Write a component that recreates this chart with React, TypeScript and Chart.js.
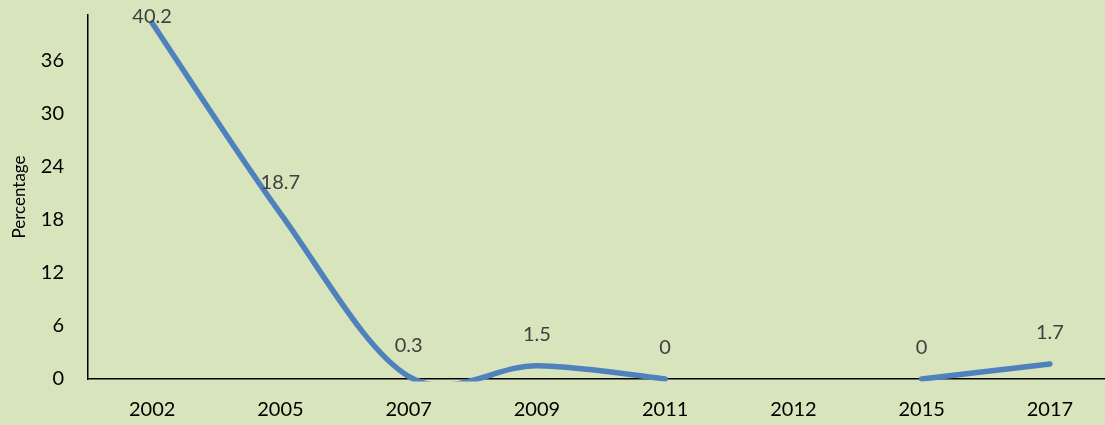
import React, { useEffect, useRef } from "react";
import { Chart, registerables } from "chart.js";
Chart.register(...registerables);

const years = ["2002", "2005", "2007", "2009", "2011", "2012", "2015", "2017"];
const percentage: (number | null)[] = [40.2, 18.7, 0.3, 1.5, 0, null, 0, 1.7];
const dataLabels = ["40.2", "18.7", "0.3", "1.5", "0", "", "0", "1.7"];
const yTicks = [0, 6, 12, 18, 24, 30, 36];
const yMax = 41.1;
const yTitle = "Percentage";

const BG = "#D8E4BC";
const FONT = "Lato, 'Open Sans', sans-serif";

// Excel-style smoothing: uniform Catmull-Rom control points (1/6 of neighbour chord)
const excelSmooth = {
  id: "excelSmooth",
  beforeDatasetsDraw(chart: any) {
    const meta = chart.getDatasetMeta(0);
    meta.dataset.updateControlPoints(chart.chartArea, meta.iScale.axis);
    const pts = meta.data;
    const ok = (i: number) => i >= 0 && i < pts.length && percentage[i] !== null;
    pts.forEach((p: any, i: number) => {
      if (!ok(i)) return;
      const prev = ok(i - 1) ? pts[i - 1] : p;
      const next = ok(i + 1) ? pts[i + 1] : p;
      const dx = (next.x - prev.x) / 6;
      const dy = (next.y - prev.y) / 6;
      p.cp1x = p.x - dx;
      p.cp1y = p.y - dy;
      p.cp2x = p.x + dx;
      p.cp2y = p.y + dy;
    });
  },
};

const labelPlugin = {
  id: "pointLabels",
  afterDatasetsDraw(chart: any) {
    const meta = chart.getDatasetMeta(0);
    const ctx = chart.ctx;
    ctx.save();
    ctx.font = `20px ${FONT}`;
    ctx.fillStyle = "#404040";
    ctx.textAlign = "center";
    ctx.textBaseline = "middle";
    meta.data.forEach((pt: any, i: number) => {
      const v = percentage[i];
      if (v === null || v === undefined) return;
      const y = Math.max(pt.y - 31, 17);
      ctx.fillText(dataLabels[i], pt.x, y);
    });
    ctx.restore();
  },
};

export default function App() {
  const ref = useRef<HTMLCanvasElement | null>(null);
  useEffect(() => {
    document.body.style.background = BG;
    document.body.style.overflow = "hidden";
    const canvas = ref.current!;
    const chart = new Chart(canvas, {
      type: "line",
      data: {
        labels: years,
        datasets: [
          {
            data: percentage,
            borderColor: "#4F81BD",
            backgroundColor: "#4F81BD",
            borderWidth: 5.5,
            tension: 0.5,
            capBezierPoints: false,
            pointRadius: 0,
            pointHoverRadius: 0,
            spanGaps: false,
            borderCapStyle: "round",
            borderJoinStyle: "round",
            clip: { left: 10, top: 10, right: 10, bottom: 2.5 } as any,
          } as any,
        ],
      },
      options: {
        animation: false,
        responsive: false,
        devicePixelRatio: 1,
        layout: { padding: { top: 15, left: 0, right: 0, bottom: 0 } },
        plugins: {
          legend: { display: false },
          tooltip: { enabled: false },
        },
        scales: {
          x: {
            offset: true,
            grid: { display: false, drawTicks: false },
            border: { display: true, color: "#000000", width: 1.5 },
            ticks: {
              padding: 19,
              color: "#000000",
              font: { family: FONT, size: 20 },
              maxRotation: 0,
              autoSkip: false,
            },
            afterFit(scale: any) {
              scale.height = 46;
              scale.paddingLeft = 0;
              scale.paddingRight = 0;
            },
          },
          y: {
            min: 0,
            max: yMax,
            grid: { display: false, drawTicks: false },
            border: { display: true, color: "#000000", width: 1.5 },
            ticks: {
              padding: 24,
              color: "#000000",
              font: { family: FONT, size: 20 },
            },
            afterBuildTicks(scale: any) {
              scale.ticks = yTicks.map((v) => ({ value: v }));
            },
            afterFit(scale: any) {
              scale.width = 88;
              scale.paddingTop = 0;
              scale.paddingBottom = 0;
            },
            title: {
              display: true,
              text: yTitle,
              color: "#000000",
              font: { family: FONT, size: 17 },
              padding: { top: 9, bottom: 0 },
            },
          },
        },
      },
      plugins: [excelSmooth, labelPlugin],
    });
    return () => chart.destroy();
  }, []);
  return (
    <div style={{ position: "fixed", left: 0, top: 0, width: 1114, height: 425, background: BG }}>
      <canvas ref={ref} width={1114} height={425} style={{ display: "block", width: 1114, height: 425 }} />
    </div>
  );
}
